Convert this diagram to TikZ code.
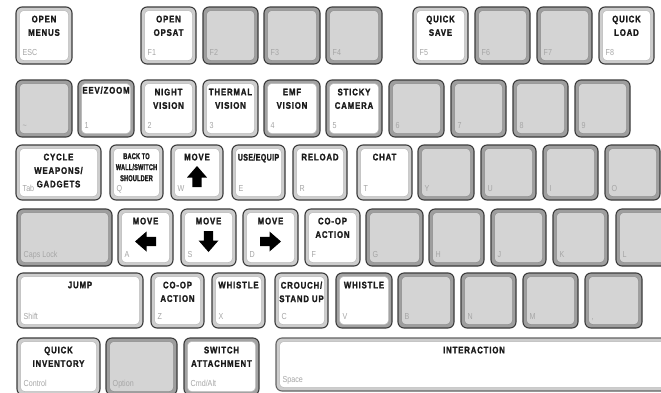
\documentclass[tikz,border=0pt]{standalone}
\usepackage{fontspec}
\setmainfont{Liberation Sans}
\newfontfamily\lblfont[FakeStretch=0.82,LetterSpace=9,FakeBold=1.6]{Liberation Sans Bold}
\newfontfamily\midfont[FakeStretch=0.74,LetterSpace=4,FakeBold=1.6]{Liberation Sans Bold}
\newfontfamily\nrwfont[FakeStretch=0.66,LetterSpace=2,FakeBold=1.4]{Liberation Sans Bold}
\newfontfamily\subfont[FakeStretch=0.82]{Liberation Sans}
\definecolor{keyline}{HTML}{3C3C3C}
\definecolor{ringlight}{HTML}{CDCDCD}
\definecolor{ringdark}{HTML}{A3A3A3}
\definecolor{ringgray}{HTML}{9E9E9E}
\definecolor{facegray}{HTML}{D4D4D4}
\definecolor{facelinew}{HTML}{B8B8B8}
\definecolor{facelineg}{HTML}{8E8E8E}
\definecolor{subtext}{HTML}{A6A6A6}
\definecolor{lbltext}{HTML}{1A1A1A}
\tikzset{
  keybox/.style={draw=keyline,line width=1.1pt,rounded corners=6pt,inner sep=0pt,outer sep=0pt},
  keyface/.style={draw,line width=0.5pt,rounded corners=4pt,inner sep=0pt,outer sep=0pt},
  wk/.style={fill=ringlight},
  wk face/.style={fill=white,draw=facelinew},
  dk/.style={fill=ringdark},
  dk face/.style={fill=white,draw=facelinew},
  gk/.style={fill=ringgray},
  gk face/.style={fill=facegray,draw=facelineg},
  sk/.style={fill=ringlight,draw=keyline!80},
  sk face/.style={fill=white,draw=facelinew},
  lbl/.style={font=\lblfont\fontsize{9.5}{13.5}\selectfont,text=lbltext,align=center,inner sep=0pt},
  midlbl/.style={font=\midfont\fontsize{9.5}{13.5}\selectfont,text=lbltext,align=center,inner sep=0pt},
  nrw/.style={font=\nrwfont\fontsize{8.5}{11}\selectfont,text=lbltext,align=center,inner sep=0pt},
  sub/.style={font=\subfont\fontsize{8.7}{9}\selectfont,text=subtext,inner sep=0pt},
  arrowc/.style={fill=black}
}
% name, x1, y1, x2, y2, type, label, sub
\newcommand\kkey[8]{%
  \node[keybox,#6,minimum width={(#4-#2)*1pt},minimum height={(#5-#3)*1pt}] (#1) at ({(#2+#4)/2},{-(#3+#5)/2}) {};
  \node[keyface,#6 face,minimum width={(#4-#2-7)*1pt},minimum height={(#5-#3-7)*1pt}] (#1-f) at (#1.center) {};
  \if\relax\detokenize{#7}\relax\else
    \node[lbl,anchor=north] (#1-t) at ([yshift=-8.5pt]#1.north) {#7};
  \fi
  \if\relax\detokenize{#8}\relax\else
    \node[sub,anchor=base west] (#1-s) at ([xshift=6.5pt,yshift=9pt]#1.south west) {#8};
  \fi
}
\newcommand\karrow[2]{%
  \fill[arrowc,shift={([yshift=-4pt]#1.center)},rotate=#2]
    (0,10.5) -- (10,-1) -- (4.7,-1) -- (4.7,-10.5) -- (-4.7,-10.5) -- (-4.7,-1) -- (-10,-1) -- cycle;
}
\begin{document}
\begin{tikzpicture}[x=1pt,y=1pt]
\useasboundingbox[fill=white] (0,0) rectangle (661,-392);
\clip (0,0) rectangle (661,-392);
% Row 1
\kkey{esc}{16}{7}{72}{64}{wk}{OPEN\\MENUS}{ESC}
\kkey{f1}{141}{7}{196}{64}{wk}{OPEN\\OPSAT}{F1}
\kkey{f2}{203}{7}{258}{64}{gk}{}{F2}
\kkey{f3}{264}{7}{320}{64}{gk}{}{F3}
\kkey{f4}{326}{7}{382}{64}{gk}{}{F4}
\kkey{f5}{413}{7}{468}{64}{wk}{QUICK\\SAVE}{F5}
\kkey{f6}{475}{7}{530}{64}{gk}{}{F6}
\kkey{f7}{537}{7}{592}{64}{gk}{}{F7}
\kkey{f8}{599}{7}{654}{64}{wk}{QUICK\\LOAD}{F8}
% Row 2
\kkey{tilde}{16}{80}{72}{137}{gk}{}{\textasciitilde}
\kkey{k1}{78}{80}{134}{137}{dk}{}{1}
\node[lbl,anchor=north] (k1-t) at ([yshift=-6.5pt]k1.north) {EEV/ZOOM};
\kkey{k2}{141}{80}{196}{137}{wk}{NIGHT\\VISION}{2}
\kkey{k3}{203}{80}{258}{137}{wk}{THERMAL\\VISION}{3}
\kkey{k4}{264}{80}{320}{137}{dk}{EMF\\VISION}{4}
\kkey{k5}{326}{80}{382}{137}{dk}{STICKY\\CAMERA}{5}
\kkey{k6}{389}{80}{444}{137}{gk}{}{6}
\kkey{k7}{451}{80}{506}{137}{gk}{}{7}
\kkey{k8}{513}{80}{568}{137}{gk}{}{8}
\kkey{k9}{575}{80}{630}{137}{gk}{}{9}
% Row 3
\kkey{tab}{16}{145}{101}{200}{wk}{CYCLE\\WEAPONS/\\GADGETS}{Tab}
\kkey{q}{110}{145}{163}{200}{wk}{}{Q}
\node[nrw,anchor=north] (q-t) at ([yshift=-8pt]q.north) {BACK TO\\WALL/SWITCH\\SHOULDER};
\kkey{w}{171}{145}{223}{200}{wk}{MOVE}{W}
\kkey{e}{232}{145}{285}{200}{wk}{}{E}
\node[midlbl,anchor=north] (e-t) at ([yshift=-8.5pt]e.north) {USE/EQUIP};
\kkey{r}{293}{145}{347}{200}{wk}{RELOAD}{R}
\kkey{t}{357}{145}{412}{200}{wk}{CHAT}{T}
\kkey{y}{418}{145}{474}{200}{gk}{}{Y}
\kkey{u}{481}{145}{536}{200}{gk}{}{U}
\kkey{i}{543}{145}{598}{200}{gk}{}{I}
\kkey{o}{605}{145}{660}{200}{gk}{}{O}
% Row 4
\kkey{caps}{17}{209}{112}{266}{gk}{}{Caps Lock}
\kkey{a}{118}{209}{173}{266}{wk}{MOVE}{A}
\kkey{s}{181}{209}{236}{266}{wk}{MOVE}{S}
\kkey{d}{243}{209}{298}{266}{wk}{MOVE}{D}
\kkey{f}{305}{209}{360}{266}{wk}{CO-OP\\ACTION}{F}
\kkey{g}{366}{209}{423}{266}{gk}{}{G}
\kkey{h}{429}{209}{484}{266}{gk}{}{H}
\kkey{j}{491}{209}{546}{266}{gk}{}{J}
\kkey{k}{553}{209}{608}{266}{gk}{}{K}
\kkey{l}{616}{209}{671}{266}{gk}{}{L}
% Row 5
\kkey{shift}{17}{273}{143}{328}{wk}{JUMP}{Shift}
\kkey{z}{151}{273}{204}{328}{wk}{CO-OP\\ACTION}{Z}
\kkey{x}{212}{273}{265}{328}{wk}{WHISTLE}{X}
\kkey{c}{275}{273}{328}{328}{wk}{CROUCH/\\STAND UP}{C}
\kkey{v}{336}{273}{392}{328}{dk}{WHISTLE}{V}
\kkey{b}{398}{273}{454}{328}{gk}{}{B}
\kkey{n}{461}{273}{516}{328}{gk}{}{N}
\kkey{m}{523}{273}{578}{328}{gk}{}{M}
\kkey{comma}{585}{273}{642}{328}{gk}{}{,}
% Row 6
\kkey{ctrl}{17}{338}{100}{395}{wk}{QUICK\\INVENTORY}{Control}
\kkey{opt}{106}{338}{177}{395}{gk}{}{Option}
\kkey{cmd}{184}{338}{259}{395}{dk}{SWITCH\\ATTACHMENT}{Cmd/Alt}
\kkey{space}{276}{338}{672}{391}{sk}{INTERACTION}{Space}
% Arrows
\karrow{w}{0}
\karrow{a}{90}
\karrow{s}{180}
\karrow{d}{-90}
\end{tikzpicture}
\end{document}
